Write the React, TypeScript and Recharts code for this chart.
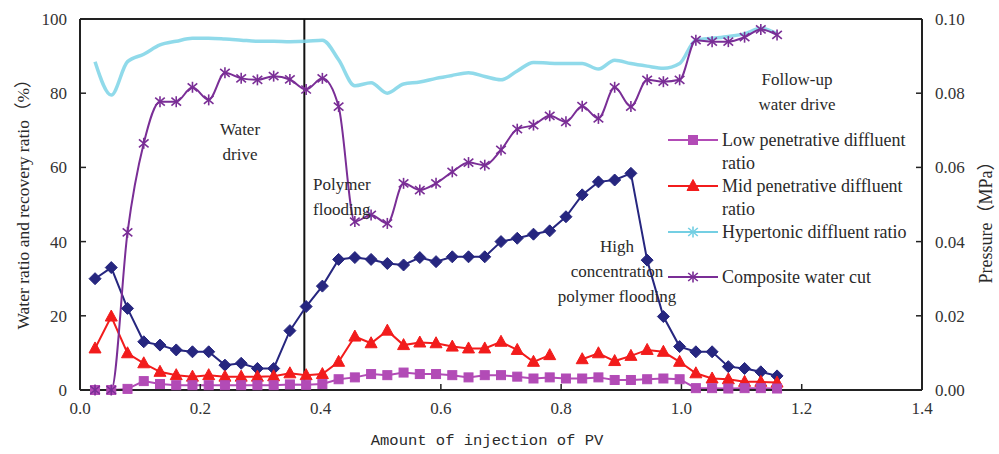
import React from 'react';
import { ComposedChart, Line, XAxis, YAxis, ReferenceLine } from 'recharts';

const pv = [0.025, 0.052, 0.079, 0.106, 0.133, 0.160, 0.187, 0.214, 0.241, 0.268, 0.295, 0.322, 0.349, 0.376, 0.403, 0.430, 0.457, 0.484, 0.511, 0.538, 0.565, 0.592, 0.619, 0.646, 0.673, 0.700, 0.727, 0.754, 0.781, 0.808, 0.835, 0.862, 0.889, 0.916, 0.943, 0.970, 0.997, 1.024, 1.051, 1.078, 1.105, 1.132, 1.159];

const lowRatio = [0, 0, 0.3, 2.4, 1.6, 1.3, 1.3, 1.3, 1.3, 1.3, 1.3, 1.3, 1.5, 1.4, 1.6, 2.9, 3.4, 4.3, 4.0, 4.7, 4.3, 4.3, 4.0, 3.4, 4.0, 4.0, 3.6, 3.1, 3.4, 3.1, 3.1, 3.4, 2.7, 2.7, 2.9, 3.1, 2.9, 0.5, 0.5, 0.4, 0.5, 0.5, 0.4];

const midRatio = [11.2, 19.8, 9.9, 7.2, 4.9, 4.0, 3.6, 4.0, 3.6, 3.6, 3.6, 3.7, 4.5, 4.0, 4.3, 7.6, 14.4, 12.6, 16.0, 12.1, 12.8, 12.6, 11.7, 11.2, 11.2, 13.0, 10.8, 7.6, 9.4, null, 8.3, 9.9, 7.8, 9.2, 10.8, 10.3, 7.6, 4.5, 3.1, 2.9, 2.2, 2.2, 2.0];

const hyperRatio = [88.5, 79.5, 88.5, 90.5, 93, 94, 94.8, 94.8, 94.6, 94.3, 94, 94, 93.9, 94, 94.3, 89, 82, 82.8, 80, 82.5, 83, 84, 84.8, 85.5, 84.5, 83.6, 86, 88.3, 88.1, 88, 88, 86.5, 88.9, 88, 87.3, 86.7, 88, 94.3, 94.8, 95.3, 96, 97.5, 96];

const waterCut = [0, 0, 42.5, 66.5, 77.7, 77.7, 81.6, 78.2, 85.5, 84, 83.6, 84.6, 83.7, 81, 84, 76.4, 45.4, 47.2, 44.9, 55.7, 53.9, 55.7, 58.8, 61.3, 60.6, 64.7, 70.3, 71.4, 73.9, 72.3, 76.5, 73.2, 81.6, 76.4, 83.6, 83.1, 83.6, 94.3, 93.9, 93.9, 95.1, 97.2, 95.7];

const pressure = [0.030, 0.033, 0.022, 0.013, 0.0121, 0.0108, 0.0103, 0.0103, 0.0067, 0.0072, 0.0058, 0.0058, 0.016, 0.0225, 0.028, 0.0352, 0.0357, 0.0352, 0.0341, 0.0337, 0.0357, 0.0346, 0.0359, 0.0359, 0.0359, 0.040, 0.0409, 0.042, 0.0429, 0.0467, 0.0526, 0.0561, 0.0566, 0.0584, 0.035, 0.0198, 0.0117, 0.0103, 0.0103, 0.0063, 0.0058, 0.0049, 0.0038];

const xTicks = [0, 0.2, 0.4, 0.6, 0.8, 1.0, 1.2, 1.4];
const leftTicks = [0, 20, 40, 60, 80, 100];
const rightTicks = [0, 0.02, 0.04, 0.06, 0.08, 0.1];
const phaseBoundary = 0.373;

const legendItems = [
  { key: 'low', lines: ['Low penetrative diffluent', 'ratio'], color: '#B24BB6', marker: 'square' },
  { key: 'mid', lines: ['Mid penetrative diffluent', 'ratio'], color: '#F21C1C', marker: 'triangle' },
  { key: 'hyper', lines: ['Hypertonic diffluent ratio'], color: '#74CFE3', marker: 'star' },
  { key: 'cut', lines: ['Composite water cut'], color: '#7A2E96', marker: 'star' },
];

const data = pv.map((x, i) => ({
  pv: x,
  low: lowRatio[i],
  mid: midRatio[i],
  hyper: hyperRatio[i],
  cut: waterCut[i],
  pressure: pressure[i],
}));

const SERIF = "'Liberation Serif', 'Times New Roman', 'Noto Sans CJK SC', serif";

function marker(kind: string, cx: number, cy: number, color: string, key?: any) {
  if (kind === 'diamond') {
    const s = 6;
    return <path key={key} d={`M${cx},${cy - s}L${cx + s},${cy}L${cx},${cy + s}L${cx - s},${cy}Z`} fill={color} stroke={color} />;
  }
  if (kind === 'triangle') {
    return <path key={key} d={`M${cx},${cy - 6.5}L${cx + 6},${cy + 4.5}L${cx - 6},${cy + 4.5}Z`} fill={color} stroke={color} />;
  }
  if (kind === 'square') {
    return <rect key={key} x={cx - 4.5} y={cy - 4.5} width={9} height={9} fill={color} stroke={color} />;
  }
  const s = 5.5;
  const d = 4;
  return (
    <g key={key} stroke={color} strokeWidth={1.6}>
      <line x1={cx} y1={cy - s} x2={cx} y2={cy + s} />
      <line x1={cx - d * 1.2} y1={cy - d} x2={cx + d * 1.2} y2={cy + d} />
      <line x1={cx - d * 1.2} y1={cy + d} x2={cx + d * 1.2} y2={cy - d} />
    </g>
  );
}

const makeDot = (kind: string, color: string) => (props: any) => {
  const { cx, cy, index } = props;
  if (cx == null || cy == null || isNaN(cx) || isNaN(cy) || props.value == null) {
    return <g key={`e-${kind}-${index}`} />;
  }
  return marker(kind, cx, cy, color, `d-${kind}-${index}`);
};

const LegendBox = () => {
  const tops = [129, 175, 221, 266];
  return (
    <div style={{ position: 'absolute', left: 666, top: 129, width: 270, height: 170 }}>
      {legendItems.map((it, k) => (
        <div key={it.key} style={{ position: 'absolute', left: 0, top: tops[k] - 129, display: 'flex', alignItems: 'flex-start' }}>
          <svg width={54} height={22} style={{ display: 'block' }}>
            <line x1={2} y1={11} x2={52} y2={11} stroke={it.color} strokeWidth={2} />
            {marker(it.marker, 27, 11, it.color)}
          </svg>
          <div style={{ fontFamily: SERIF, fontSize: 18, lineHeight: '23px', color: '#2a2a2a', marginLeft: 2, whiteSpace: 'nowrap' }}>
            {it.lines.map((l) => (
              <div key={l}>{l}</div>
            ))}
          </div>
        </div>
      ))}
    </div>
  );
};

const annStyle: React.CSSProperties = {
  position: 'absolute',
  fontFamily: SERIF,
  fontSize: 17,
  lineHeight: '25px',
  color: '#2a2a2a',
  whiteSpace: 'nowrap',
};

export default function App() {
  const tickStyle = { fontFamily: SERIF, fontSize: 17, fill: '#333' };
  return (
    <div style={{ position: 'absolute', left: 0, top: 0, width: 999, height: 454, background: '#fff' }}>
      <ComposedChart
        width={999}
        height={454}
        data={data}
        margin={{ top: 19, right: 27, bottom: 34, left: 30 }}
      >
        <XAxis
          dataKey="pv"
          type="number"
          domain={[0, 1.4]}
          ticks={xTicks}
          tickFormatter={(v: number) => v.toFixed(1)}
          height={30}
          tickSize={-6}
          tickMargin={18}
          tick={tickStyle}
          axisLine={{ stroke: '#222', strokeWidth: 2 }}
          tickLine={{ stroke: '#222', strokeWidth: 1.5 }}
          allowDataOverflow
        />
        <YAxis
          yAxisId="left"
          orientation="left"
          domain={[0, 100]}
          ticks={leftTicks}
          width={50}
          tickSize={-6}
          tickMargin={19}
          tick={tickStyle}
          axisLine={{ stroke: '#222', strokeWidth: 2 }}
          tickLine={{ stroke: '#222', strokeWidth: 1.5 }}
        />
        <YAxis
          yAxisId="right"
          orientation="right"
          domain={[0, 0.1]}
          ticks={rightTicks}
          tickFormatter={(v: number) => v.toFixed(2)}
          width={50}
          tickSize={-6}
          tickMargin={19}
          tick={tickStyle}
          axisLine={{ stroke: '#222', strokeWidth: 2 }}
          tickLine={{ stroke: '#222', strokeWidth: 1.5 }}
        />
        <ReferenceLine yAxisId="left" y={100} stroke="#222" strokeWidth={2} />
        <ReferenceLine yAxisId="left" x={phaseBoundary} stroke="#111" strokeWidth={2} />
        <Line
          yAxisId="left"
          dataKey="hyper"
          type="monotone"
          stroke="#7DD3E6"
          strokeWidth={3.5}
          strokeOpacity={0.85}
          dot={false}
          isAnimationActive={false}
        />
        <Line
          yAxisId="right"
          dataKey="pressure"
          type="linear"
          stroke="#26267F"
          strokeWidth={2}
          dot={makeDot('diamond', '#26267F')}
          isAnimationActive={false}
        />
        <Line
          yAxisId="left"
          dataKey="mid"
          type="linear"
          stroke="#F21C1C"
          strokeWidth={2}
          dot={makeDot('triangle', '#F21C1C')}
          connectNulls={false}
          isAnimationActive={false}
        />
        <Line
          yAxisId="left"
          dataKey="low"
          type="linear"
          stroke="#B24BB6"
          strokeWidth={2}
          dot={makeDot('square', '#B24BB6')}
          isAnimationActive={false}
        />
        <Line
          yAxisId="left"
          dataKey="cut"
          type="monotone"
          stroke="#7A2E96"
          strokeWidth={2}
          dot={makeDot('star', '#7A2E96')}
          isAnimationActive={false}
        />
      </ComposedChart>

      <LegendBox />

      <div style={{ ...annStyle, left: 200, top: 117, width: 80, textAlign: 'center' }}>
        <div>Water</div>
        <div>drive</div>
      </div>
      <div style={{ ...annStyle, left: 313, top: 172, textAlign: 'left' }}>
        <div>Polymer</div>
        <div>flooding</div>
      </div>
      <div style={{ ...annStyle, left: 547, top: 234, width: 140, textAlign: 'center' }}>
        <div>High</div>
        <div>concentration</div>
        <div>polymer flooding</div>
      </div>
      <div style={{ ...annStyle, left: 737, top: 67, width: 120, textAlign: 'center' }}>
        <div>Follow-up</div>
        <div>water drive</div>
      </div>

      <div
        style={{
          position: 'absolute',
          left: 21,
          top: 200,
          transform: 'translate(-50%, -50%) rotate(-90deg)',
          fontFamily: SERIF,
          fontSize: 17.5,
          color: '#2a2a2a',
          whiteSpace: 'nowrap',
        }}
      >
        Water ratio and recovery ratio（%）
      </div>
      <div
        style={{
          position: 'absolute',
          left: 984,
          top: 218,
          transform: 'translate(-50%, -50%) rotate(-90deg)',
          fontFamily: SERIF,
          fontSize: 18,
          color: '#2a2a2a',
          whiteSpace: 'nowrap',
        }}
      >
        Pressure（MPa）
      </div>
      <div
        style={{
          position: 'absolute',
          left: 487,
          top: 441,
          transform: 'translate(-50%, -50%)',
          fontFamily: "'Liberation Mono', monospace",
          fontSize: 15.5,
          color: '#2a2a2a',
          whiteSpace: 'nowrap',
        }}
      >
        Amount of injection of PV
      </div>
    </div>
  );
}
